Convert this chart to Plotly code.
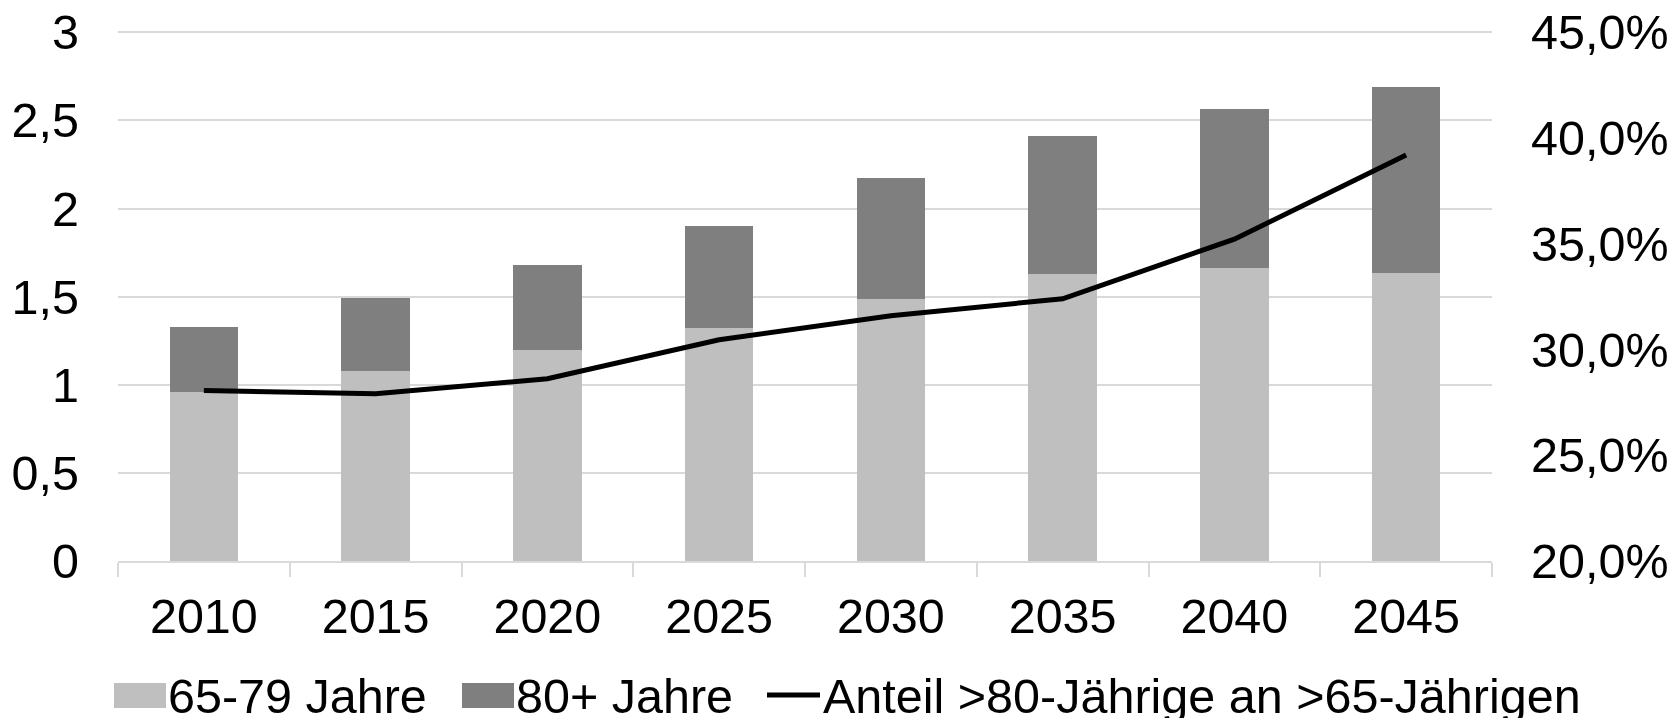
import plotly.graph_objects as go

# ---- data ----
years = ["2010", "2015", "2020", "2025", "2030", "2035", "2040", "2045"]
age_65_79 = [0.958, 1.078, 1.199, 1.323, 1.488, 1.629, 1.664, 1.636]
age_80_plus = [0.369, 0.417, 0.480, 0.578, 0.687, 0.785, 0.900, 1.054]
share_80_of_65 = [0.2806, 0.2791, 0.2862, 0.3046, 0.3160, 0.3240, 0.3522, 0.3920]
left_ticks = [0, 0.5, 1, 1.5, 2, 2.5, 3]
right_ticks = [0.20, 0.25, 0.30, 0.35, 0.40, 0.45]
legend_names = ["65-79 Jahre", "80+ Jahre", "Anteil >80-Jährige an >65-Jährigen"]

# ---- layout geometry (pixels) ----
W, H = 1676, 718
L, R, T, B = 118, 184, 29, 157
PW = W - L - R
PH = H - T - B
Y_TOP = 3 + (32.3 - T) / ((H - B - 32.3) / 3)      # small headroom so the "3" gridline shows
Y2_TOP = 0.20 + 0.25 * Y_TOP / 3

LIGHT = "#BFBFBF"
DARK = "#7F7F7F"
GRID = "#D9D9D9"
FONT = "Liberation Sans, Arial, sans-serif"
FS = 48.5


def px_x(px):
    return (px - L) / PW


def px_y(py):
    return (H - B - py) / PH


fig = go.Figure()
fig.add_trace(go.Bar(x=years, y=age_65_79, name=legend_names[0],
                     marker=dict(color=LIGHT, line=dict(width=0)), showlegend=False))
fig.add_trace(go.Bar(x=years, y=age_80_plus, name=legend_names[1],
                     marker=dict(color=DARK, line=dict(width=0)), showlegend=False))
fig.add_trace(go.Scatter(x=years, y=share_80_of_65, name=legend_names[2], yaxis="y2",
                         mode="lines", line=dict(color="black", width=5),
                         showlegend=False))

# ---- custom legend ----
shapes = []
annotations = []
leg_y = 696
# swatch 1
shapes.append(dict(type="rect", xref="paper", yref="paper",
                   x0=px_x(114), x1=px_x(166), y0=px_y(683), y1=px_y(708),
                   fillcolor=LIGHT, line=dict(width=0)))
annotations.append(dict(xref="paper", yref="paper", x=px_x(166), y=px_y(leg_y),
                        xanchor="left", yanchor="middle", text=legend_names[0],
                        showarrow=False, font=dict(family=FONT, size=FS, color="black")))
# swatch 2
shapes.append(dict(type="rect", xref="paper", yref="paper",
                   x0=px_x(462), x1=px_x(514), y0=px_y(683), y1=px_y(708),
                   fillcolor=DARK, line=dict(width=0)))
annotations.append(dict(xref="paper", yref="paper", x=px_x(514), y=px_y(leg_y),
                        xanchor="left", yanchor="middle", text=legend_names[1],
                        showarrow=False, font=dict(family=FONT, size=FS, color="black")))
# line sample
shapes.append(dict(type="line", xref="paper", yref="paper",
                   x0=px_x(767), x1=px_x(820), y0=px_y(695), y1=px_y(695),
                   line=dict(color="black", width=5)))
annotations.append(dict(xref="paper", yref="paper", x=px_x(821), y=px_y(leg_y),
                        xanchor="left", yanchor="middle", text=legend_names[2],
                        showarrow=False, font=dict(family=FONT, size=FS, color="black")))

fig.update_layout(
    width=W, height=H,
    margin=dict(l=L, r=R, t=T, b=B, pad=0, autoexpand=False),
    paper_bgcolor="white", plot_bgcolor="white",
    barmode="stack", bargap=0.6,
    separators=",.",
    font=dict(family=FONT, size=FS, color="black"),
    showlegend=False,
    xaxis=dict(
        type="category", showgrid=False, showline=True, linecolor=GRID, linewidth=2,
        ticks="outside", ticklen=14, tickcolor=GRID, tickwidth=2, tickson="boundaries",
        ticklabelstandoff=12, automargin=False,
        tickfont=dict(family=FONT, size=FS, color="black"),
        range=[-0.5, 7.5],
    ),
    yaxis=dict(
        range=[0, Y_TOP], tickvals=left_ticks, showgrid=True, gridcolor=GRID, gridwidth=2,
        zeroline=False, showline=False, ticks="", ticklabelstandoff=38, automargin=False,
        tickfont=dict(family=FONT, size=FS, color="black"),
    ),
    yaxis2=dict(
        overlaying="y", side="right", range=[0.20, Y2_TOP], tickvals=right_ticks,
        tickformat=".1%", showgrid=False, zeroline=False, showline=False, ticks="",
        ticklabelstandoff=38, automargin=False,
        tickfont=dict(family=FONT, size=FS, color="black"),
    ),
    shapes=shapes,
    annotations=annotations,
)

fig.write_html("out.html")
